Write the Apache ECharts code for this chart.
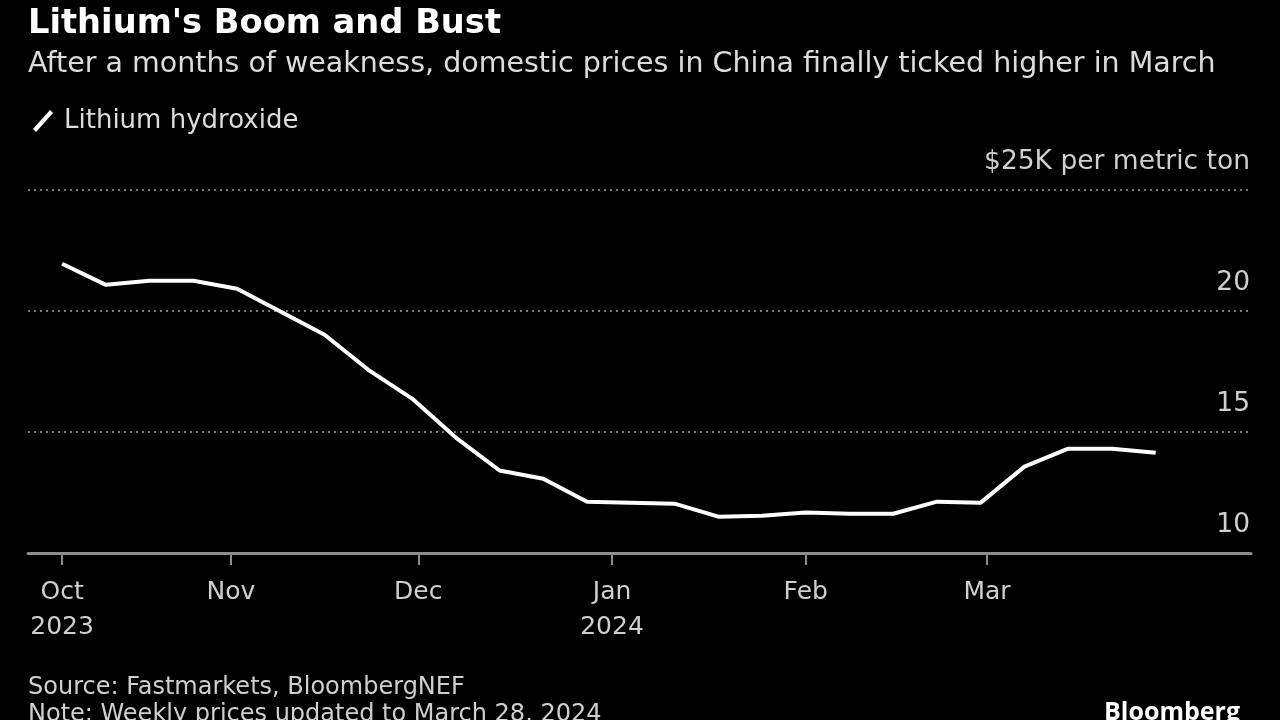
<!DOCTYPE html>
<html><head><meta charset="utf-8">
<script src="https://cdn.jsdelivr.net/npm/echarts@6/dist/echarts.min.js"></script>
<style>html,body{margin:0;padding:0;background:#000}#c{width:1280px;height:720px}</style>
</head><body><div id="c"></div>
<script>
const dates = ['2023-10-05','2023-10-12','2023-10-19','2023-10-26','2023-11-02','2023-11-09','2023-11-16','2023-11-23','2023-11-30',
  '2023-12-07','2023-12-14','2023-12-21','2023-12-28','2024-01-04','2024-01-11','2024-01-18','2024-01-25',
  '2024-02-01','2024-02-08','2024-02-15','2024-02-22','2024-02-29','2024-03-07','2024-03-14','2024-03-21','2024-03-28'];
const hydroxide = [21.95,21.08,21.25,21.25,20.92,19.97,19.02,17.57,16.38,14.77,13.41,13.07,12.12,12.08,12.04,11.50,11.54,11.67,11.62,11.62,12.12,12.08,13.57,14.31,14.31,14.14];
const monthTicks = ['2023-10-05','2023-11-01','2023-12-01','2024-01-01','2024-02-01','2024-03-01'];
const monthLabels = ['Oct\n2023','Nov','Dec','Jan\n2024','Feb','Mar'];
const yTicks = [10,15,20,25];
const axisStart = '2023-09-29T13:00:00Z';
const axisEnd = '2024-04-12T06:00:00Z';

const FONT = "'DejaVu Sans',sans-serif";
const t = s => Date.parse(s.length === 10 ? s + 'T00:00:00Z' : s);
const tickVals = monthTicks.map(t);
const labelMap = {};
tickVals.forEach((v, i) => labelMap[v] = monthLabels[i]);

const chart = echarts.init(document.getElementById('c'));
chart.setOption({
  backgroundColor: '#000',
  animation: false,
  grid: { left: 28, right: 29, top: 190, bottom: 167 },
  legend: {
    left: 28, top: 103, itemWidth: 22, itemHeight: 22, itemGap: 10,
    icon: 'path://M3,22 L0,19 L17,0 L20,3 Z',
    textStyle: { color: '#dcdcdc', fontSize: 26, fontFamily: FONT, padding: [0, 0, 0, 5] },
    data: ['Lithium hydroxide']
  },
  xAxis: {
    type: 'value', min: t(axisStart), max: t(axisEnd),
    splitLine: { show: false },
    axisLine: { show: true, lineStyle: { color: '#8c8c8c', width: 3 } },
    axisTick: { show: true, customValues: tickVals, length: 12, lineStyle: { color: '#8c8c8c', width: 2 } },
    axisLabel: { customValues: tickVals, formatter: v => labelMap[v] || '', color: '#cfcfcf',
      fontSize: 25, fontFamily: FONT, margin: 22, lineHeight: 35 }
  },
  yAxis: {
    type: 'value', position: 'right', min: 10, max: 25, interval: 5,
    axisLine: { show: false }, axisTick: { show: false },
    splitLine: { show: true, lineStyle: { color: '#7a7a7a', type: [2, 4], width: 2 } },
    axisLabel: { inside: true, margin: 1, color: '#cfcfcf', fontSize: 26.5, fontFamily: FONT,
      verticalAlign: 'bottom', padding: [0, 0, 14, 0],
      formatter: v => v === 25 ? '$25K per metric ton' : String(v) }
  },
  series: [{
    name: 'Lithium hydroxide', type: 'line', showSymbol: false,
    itemStyle: { color: '#fff' },
    lineStyle: { color: '#fff', width: 4 },
    data: dates.map((d, i) => [t(d), hydroxide[i]])
  }],
  graphic: [
    { type: 'text', left: 28, top: 7, style: { text: "Lithium's Boom and Bust", fill: '#fff', font: "bold 33.7px " + FONT } },
    { type: 'text', left: 28, top: 50, style: { text: 'After a months of weakness, domestic prices in China finally ticked higher in March', fill: '#dcdcdc', font: "28.5px " + FONT } },
    { type: 'text', left: 28, top: 676, style: { text: 'Source: Fastmarkets, BloombergNEF', fill: '#cfcfcf', font: "24px " + FONT } },
    { type: 'text', left: 28, top: 703, style: { text: 'Note: Weekly prices updated to March 28, 2024', fill: '#cfcfcf', font: "24px " + FONT } },
    { type: 'text', right: 40, top: 700, style: { text: 'Bloomberg', fill: '#fff', font: "bold 25px 'Open Sans',sans-serif" } }
  ]
});
</script></body></html>
